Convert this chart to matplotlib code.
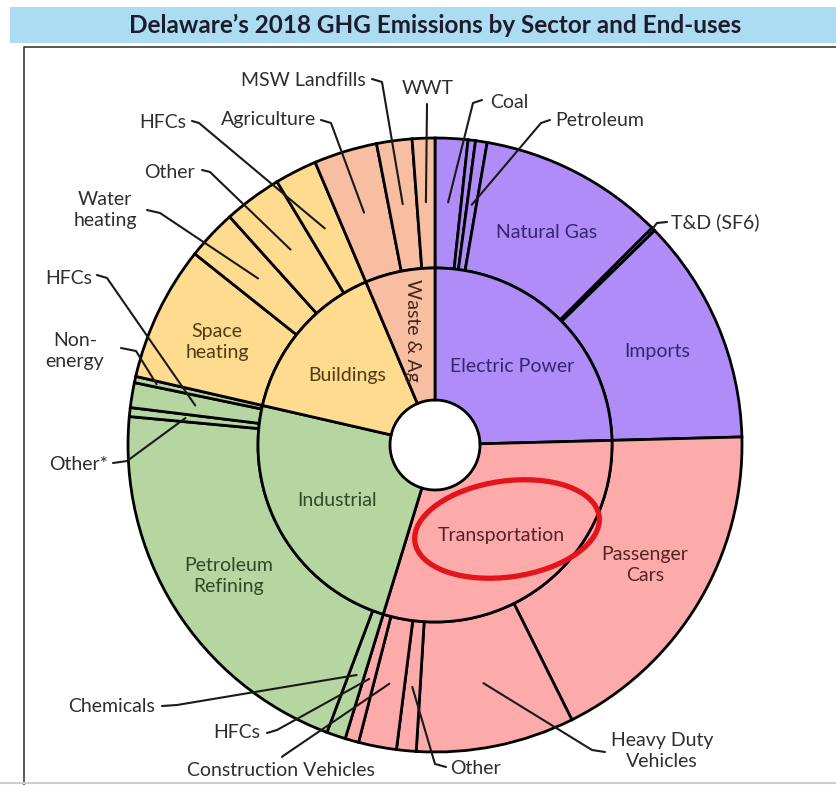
import numpy as np
import matplotlib
matplotlib.use('Agg')
import matplotlib.pyplot as plt
from matplotlib.patches import Ellipse, Rectangle

plt.rcParams['font.family'] = ['Lato', 'DejaVu Sans']

# inner ring: sectors
sectors = ['Electric Power', 'Transportation', 'Industrial', 'Buildings', 'Waste & Ag']
sector_colors = ['#b08cf8', '#fdaaaa', '#b5d6a1', '#fedb8f', '#f8bea2']
sector_ink = ['#34276f', '#522426', '#2f4a25', '#4d3d15', '#42281a']

# outer ring: end uses, % of statewide total
power_uses = ['Coal', 'Other fuels', 'Petroleum', 'Natural Gas', 'T&D (SF6)', 'Imports']
power_vals = [1.72, 0.39, 0.61, 9.78, 0.19, 11.89]
transport_uses = ['Passenger\nCars', 'Heavy Duty\nVehicles', 'Other', 'Construction Vehicles', 'HFCs']
transport_vals = [18.06, 8.33, 1.03, 2.00, 0.72]
industry_uses = ['Chemicals', 'Petroleum\nRefining', 'Other*', 'HFCs', 'Non-\nenergy']
industry_vals = [1.00, 20.75, 0.47, 1.31, 0.33]
building_uses = ['Space\nheating', 'Water\nheating', 'Other', 'HFCs']
building_vals = [7.11, 2.64, 3.06, 2.22]
waste_uses = ['Agriculture', 'MSW Landfills', 'WWT']
waste_vals = [3.33, 1.86, 1.19]

groups = [(power_uses, power_vals), (transport_uses, transport_vals),
          (industry_uses, industry_vals), (building_uses, building_vals),
          (waste_uses, waste_vals)]

sector_vals = [sum(v) for _, v in groups]
outer_vals = [x for _, v in groups for x in v]
outer_keys = [(i, n) for i, (names, _) in enumerate(groups) for n in names]
outer_colors = [sector_colors[i] for i, (_, v) in enumerate(groups) for _ in v]

CX, CY = 435, 445
R_OUT, R_MID, R_HOLE = 307, 177, 45
FS = 14
LS = 1.3


def polar(phi, r):
    # phi in degrees, clockwise from 12 o'clock, y axis pointing down
    a = np.radians(phi)
    return CX + r * np.sin(a), CY - r * np.cos(a)


fig = plt.figure(figsize=(8.36, 7.85), dpi=100)
ax = fig.add_axes([0, 0, 1, 1])

edge = dict(edgecolor='black', linewidth=2.0)
ax.pie(outer_vals, radius=R_OUT, center=(CX, CY), startangle=-90, counterclock=True,
       colors=outer_colors, wedgeprops=dict(width=R_OUT - R_MID, **edge))
ax.pie(sector_vals, radius=R_MID, center=(CX, CY), startangle=-90, counterclock=True,
       colors=sector_colors, wedgeprops=dict(width=R_MID - R_HOLE, **edge))

ax.set_xlim(0, 836)
ax.set_ylim(785, 0)
ax.axis('off')

# mid angle of every outer slice
total = sum(outer_vals)
cum = np.cumsum([0] + outer_vals[:-1])
mid_angle = {k: 360 * (c + v / 2) / total for k, c, v in zip(outer_keys, cum, outer_vals)}

# labels inside the outer ring
inside = {
    (0, 'Natural Gas'): (547, 232),
    (0, 'Imports'): (657, 352),
    (1, 'Passenger\nCars'): (645, 565),
    (2, 'Petroleum\nRefining'): (229, 576),
    (3, 'Space\nheating'): (217, 342),
}
for (gi, name), xy in inside.items():
    ax.text(xy[0], xy[1], name, ha='center', va='center', fontsize=FS,
            color=sector_ink[gi], linespacing=LS)

# sector labels
sector_pos = [(512, 366), (501, 536), (337, 500), (347, 376), (412, 330)]
for i, (name, xy) in enumerate(zip(sectors, sector_pos)):
    ax.text(xy[0], xy[1], name, ha='center', va='center', fontsize=FS,
            color=sector_ink[i], rotation=270 if i == 4 else 0)

# callouts: text position, alignment, leader stub, leader end radius
callouts = {
    (0, 'Coal'): ((490, 102), 'left', [(482, 100), (473, 103)], 243),
    (0, 'Petroleum'): ((555, 121), 'left', [(550, 120), (541, 123)], 243),
    (0, 'T&D (SF6)'): ((671, 222), 'left', [(667, 222), (657, 223)], 300),
    (4, 'MSW Landfills'): ((366, 80), 'right', [(372, 79), (382, 82)], 243),
    (4, 'WWT'): ((428, 89), 'center', [(427, 104), (427, 105)], 243),
    (4, 'Agriculture'): ((316, 119), 'right', [(321, 120), (331, 123)], 243),
    (3, 'HFCs'): ((186, 123), 'right', [(192, 121), (199, 123)], 243),
    (3, 'Other'): ((195, 172), 'right', [(202, 170), (210, 172)], 243),
    (3, 'Water\nheating'): ((105, 210), 'center', [(147, 210), (160, 213)], 243),
    (2, 'HFCs'): ((92, 278), 'right', [(97, 275), (107, 278)], 243),
    (2, 'Non-\nenergy'): ((75, 351), 'center', [(121, 348), (136, 351)], 285),
    (2, 'Other*'): ((108, 465), 'right', [(113, 463), (127, 461)], 251),
    (2, 'Chemicals'): ((155, 707), 'right', [(162, 706), (177, 705)], 243),
    (1, 'HFCs'): ((260, 732), 'right', [(267, 733), (277, 730)], 243),
    (1, 'Construction Vehicles'): ((281, 771), 'center', [(282, 757), (283, 756)], 243),
    (1, 'Other'): ((450, 769), 'left', [(446, 767), (435, 764)], 243),
    (1, 'Heavy Duty\nVehicles'): ((662, 751), 'center', [(605, 752), (592, 750)], 243),
}
for key, (xy, ha, stub, r_end) in callouts.items():
    ex, ey = polar(mid_angle[key], r_end)
    xs = [p[0] for p in stub] + [ex]
    ys = [p[1] for p in stub] + [ey]
    ax.plot(xs, ys, color='#1a1a1a', lw=1.5, solid_capstyle='round')
    ax.text(xy[0], xy[1], key[1], ha=ha, va='center', fontsize=FS,
            color='#2e2e2e', linespacing=LS)

# hand drawn ring around the transportation label
ax.add_patch(Ellipse((507, 529), 186, 96, angle=-8, fill=False,
                     edgecolor='#e3141b', lw=3.8))

# title bar and frame
ax.add_patch(Rectangle((10, 7), 826, 36, facecolor='#abdcf2', edgecolor='none'))
ax.text(435, 25, 'Delaware\u2019s 2018 GHG Emissions by Sector and End-uses',
        ha='center', va='center', fontsize=17.5, fontweight='bold', color='#1c1c2c')
ax.plot([24, 24, 836], [785, 47, 47], color='#3a3a3a', lw=1.2)
ax.plot([0, 836], [783, 783], color='#cccccc', lw=1.5)

fig.savefig('out.png', dpi=100)
